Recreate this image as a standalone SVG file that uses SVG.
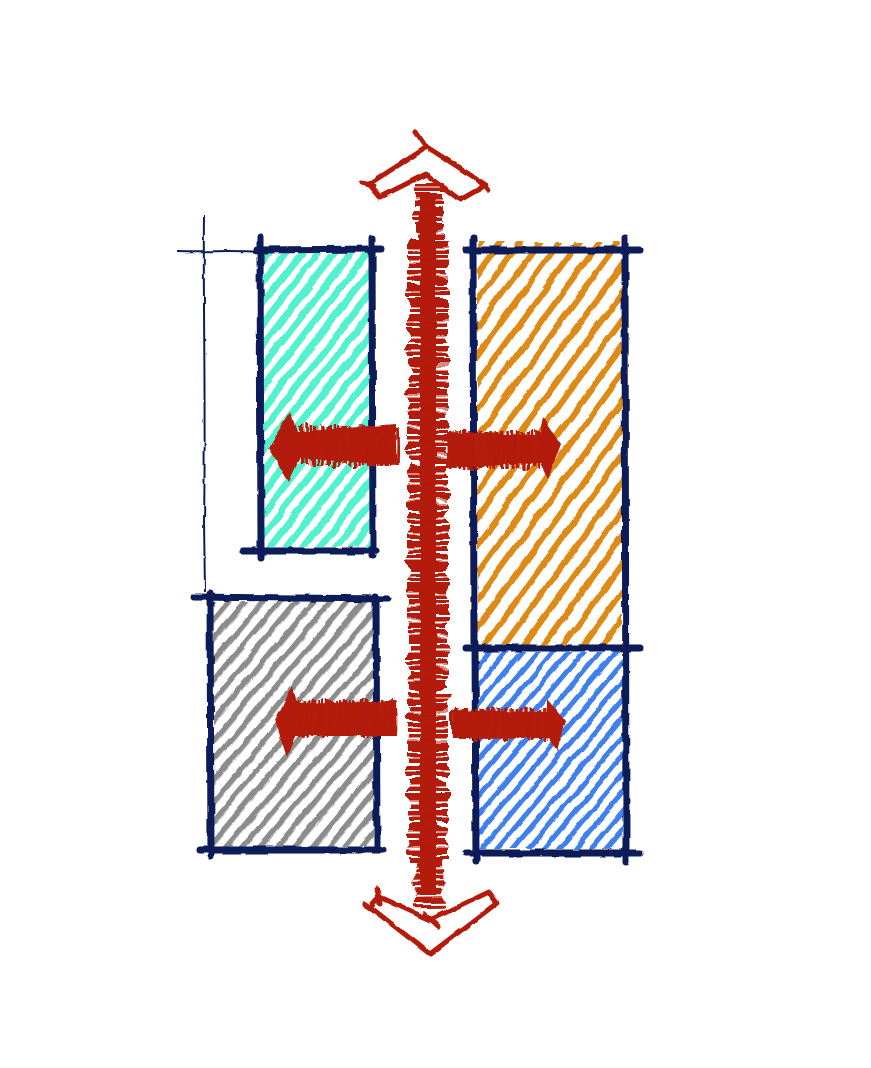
<svg xmlns="http://www.w3.org/2000/svg" width="871" height="1068" viewBox="0 0 871 1068">
<style>
.frame{stroke:#0c1d58;stroke-width:7;stroke-linecap:round;fill:none}
.thin{stroke:#0c1d58;stroke-width:2;fill:none}
.red{fill:#b31d08}
.redline{stroke:#b31d08;fill:none;stroke-width:5;stroke-linejoin:round;stroke-linecap:round}
.scrib{stroke:#b31d08;fill:none}
</style>
<defs>
<filter id="rough" filterUnits="userSpaceOnUse" x="0" y="0" width="871" height="1068">
<feTurbulence type="fractalNoise" baseFrequency="0.06" numOctaves="2" seed="4" result="n"/>
<feDisplacementMap in="SourceGraphic" in2="n" scale="4" xChannelSelector="R" yChannelSelector="G"/>
</filter>
<filter id="hatchRough" filterUnits="userSpaceOnUse" x="0" y="0" width="871" height="1068">
<feTurbulence type="fractalNoise" baseFrequency="0.035" numOctaves="2" seed="7" result="n"/>
<feDisplacementMap in="SourceGraphic" in2="n" scale="6" xChannelSelector="R" yChannelSelector="G"/>
</filter>
<filter id="scribV" filterUnits="userSpaceOnUse" x="0" y="0" width="871" height="1068">
<feTurbulence type="fractalNoise" baseFrequency="0.02 0.09" numOctaves="1" seed="2" result="n"/>
<feDisplacementMap in="SourceGraphic" in2="n" scale="16" xChannelSelector="R" yChannelSelector="G"/>
</filter>
<filter id="scribH" filterUnits="userSpaceOnUse" x="0" y="0" width="871" height="1068">
<feTurbulence type="fractalNoise" baseFrequency="0.1 0.03" numOctaves="1" seed="5" result="n"/>
<feDisplacementMap in="SourceGraphic" in2="n" scale="14" xChannelSelector="R" yChannelSelector="G"/>
</filter>
<pattern id="hCyan" width="13" height="13" patternUnits="userSpaceOnUse" patternTransform="rotate(38)">
<rect x="0" y="0" width="7" height="13" fill="#52f2cf"/>
</pattern>
<pattern id="hOrange" width="16" height="16" patternUnits="userSpaceOnUse" patternTransform="rotate(36)">
<rect x="0" y="0" width="6" height="16" fill="#dd8b16"/>
</pattern>
<pattern id="hGray" width="13" height="13" patternUnits="userSpaceOnUse" patternTransform="rotate(40)">
<rect x="0" y="0" width="5.5" height="13" fill="#8c8c8c"/>
</pattern>
<pattern id="hBlue" width="12" height="12" patternUnits="userSpaceOnUse" patternTransform="rotate(40)">
<rect x="0" y="0" width="5" height="12" fill="#3f80ea"/>
</pattern>
</defs>
<rect width="871" height="1068" fill="#ffffff"/>

<g id="guides" filter="url(#rough)">
<path class="thin" d="M204 216 C203 300 206 420 204 520 L205 592"/>
<path class="thin" d="M177 251 C210 252 235 250 258 252"/>
</g>

<g id="node-cyan">
<rect x="263" y="253" width="107" height="294" fill="url(#hCyan)" filter="url(#hatchRough)"/>
<g filter="url(#rough)">
<path class="frame" d="M257 250 L381 249"/>
<path class="frame" d="M260 238 L261 557"/>
<path class="frame" d="M372 238 L373 556"/>
<path class="frame" d="M243 551 L376 551"/>
</g>
</g>

<g id="node-gray">
<rect x="213" y="601" width="162" height="246" fill="url(#hGray)" filter="url(#hatchRough)"/>
<g filter="url(#rough)">
<path class="frame" d="M194 597 L388 599"/>
<path class="frame" d="M210 594 L211 856"/>
<path class="frame" d="M376 597 L377 846"/>
<path class="frame" d="M200 850 L383 850"/>
</g>
</g>

<g id="node-orange">
<rect x="477" y="242" width="146" height="403" fill="url(#hOrange)" filter="url(#hatchRough)"/>
<g filter="url(#rough)">
<path class="frame" d="M466 250 L640 250"/>
<path class="frame" d="M473 238 L474 642"/>
</g>
</g>

<g id="node-blue">
<rect x="478" y="651" width="146" height="198" fill="url(#hBlue)" filter="url(#hatchRough)"/>
<g filter="url(#rough)">
<path class="frame" d="M466 648 L640 648"/>
<path class="frame" d="M475 642 L476 862"/>
<path class="frame" d="M625 238 L626 862"/>
<path class="frame" d="M466 853 L640 853"/>
</g>
</g>

<g id="connectors">
<g id="axis">
<rect x="420" y="195" width="16" height="700" class="red" filter="url(#rough)"/>
<g filter="url(#scribV)">
<path class="scrib" d="M429 180 L429 240" stroke-width="28" stroke-dasharray="5.5 2"/>
<path class="scrib" d="M428 240 L428 860" stroke-width="40" stroke-dasharray="5.5 2"/>
<path class="scrib" d="M428 860 L429 908" stroke-width="28" stroke-dasharray="5.5 2"/>
</g>
<g filter="url(#rough)">
<path class="redline" d="M369 184 L427 147 L486 185 L460 200 L426 174 L380 197 Z"/>
<path class="redline" d="M415 132 L424 145"/>
<path class="redline" d="M362 183 L374 186"/>
<path class="redline" d="M478 180 L488 190"/>
<path class="redline" d="M370 907 L379 897 L430 920 L489 892 L497 903 L430 954 Z"/>
<path class="redline" d="M377 889 L380 904"/>
<path class="redline" d="M364 904 L376 912"/>
<path class="redline" d="M425 914 L438 926"/>
</g>
</g>
<g id="arrow-top-left">
<path class="red" filter="url(#rough)" d="M268 448 L290 412 L297 432 L396 424 L398 466 L300 458 L289 482 Z"/>
<path class="scrib" d="M300 446 L399 446" stroke-width="40" stroke-dasharray="3.5 1.8" filter="url(#scribH)"/>
</g>
<g id="arrow-top-right">
<path class="red" filter="url(#rough)" d="M447 432 L540 435 L543 417 L561 444 L548 478 L540 463 L448 468 Z"/>
<path class="scrib" d="M447 450 L540 450" stroke-width="38" stroke-dasharray="3.5 1.8" filter="url(#scribH)"/>
</g>
<g id="arrow-bottom-left">
<path class="red" filter="url(#rough)" d="M275 720 L293 685 L297 704 L396 701 L397 736 L295 736 L287 758 Z"/>
<path class="scrib" d="M296 718 L397 718" stroke-width="36" stroke-dasharray="3.5 1.8" filter="url(#scribH)"/>
</g>
<g id="arrow-bottom-right">
<path class="red" filter="url(#rough)" d="M452 710 L547 712 L547 699 L565 721 L557 751 L549 738 L453 739 Z"/>
<path class="scrib" d="M452 724 L548 724" stroke-width="30" stroke-dasharray="3.5 1.8" filter="url(#scribH)"/>
</g>
</g>
</svg>
